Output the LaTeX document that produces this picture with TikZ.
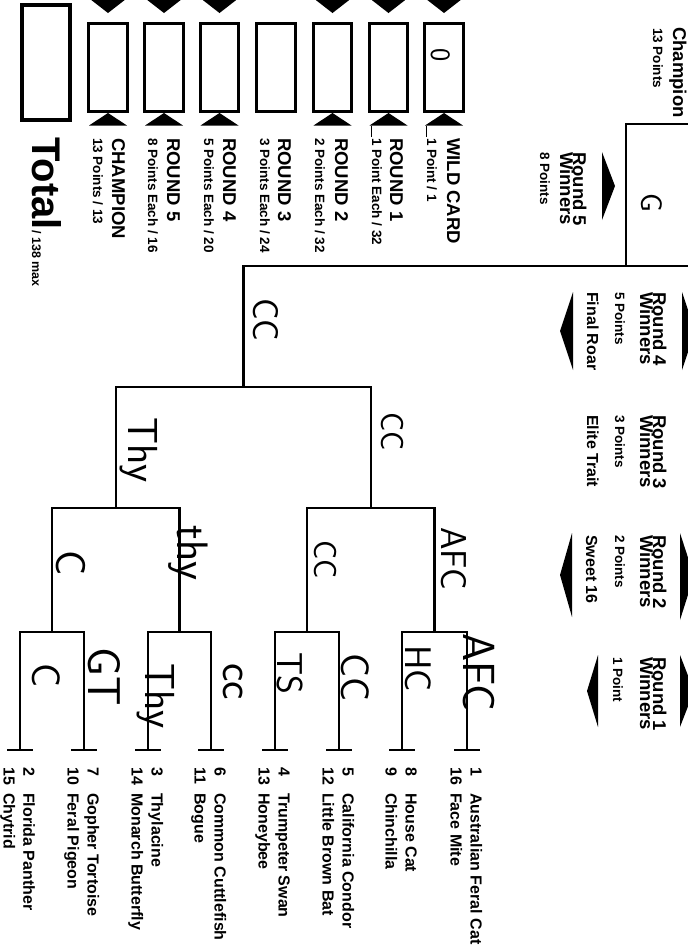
\documentclass[tikz,border=0pt]{standalone}
\usepackage{fontspec}
\setmainfont{Liberation Sans}
\newcommand\myfs[1]{\fontsize{#1}{#1}\selectfont}
\begin{document}
\begin{tikzpicture}[x=1pt,y=-1pt,
  brk/.style={line width=2.5pt},
  tickln/.style={line width=2.8pt},
  sbox/.style={draw,line width=2.6pt,minimum width=38.5pt,minimum height=88.5pt,inner sep=0pt},
  txt/.style={rotate=-90,anchor=base west,inner sep=0pt},
  seedtxt/.style={txt,font=\bfseries\myfs{16}},
  captxt/.style={txt,font=\bfseries\myfs{18.5}},
  smtxt/.style={txt,font=\bfseries\myfs{13.5}},
  hand/.style={txt,font=\sffamily\myfs{#1}},
  tri/.style={fill=black}]
\path[use as bounding box] (0,0) rectangle (688,951);
\fill[white] (0,0) rectangle (688,951);
\clip (0,0) rectangle (688,951);

% ---------- bracket ----------
\foreach \i/\v in {1/20,2/84,3/148,4/211,5/275,6/339,7/402,8/467} {
  \coordinate (L\i) at (\v,750);
  \coordinate (J\i) at (\v,632);
  \coordinate (Ta\i) at (\v-13,750);
  \coordinate (Tb\i) at (\v+13,750);
}
\foreach \i/\v in {1/52,2/179.5,3/307,4/434.5} {
  \coordinate (M\i) at (\v,632);
  \coordinate (N\i) at (\v,508);
}
\coordinate (P1) at (115.75,508); \coordinate (Q1) at (115.75,387);
\coordinate (P2) at (370.75,508); \coordinate (Q2) at (370.75,387);
\coordinate (R) at (243.25,387); \coordinate (S) at (243.25,266);
\coordinate (E1) at (695,266);
\coordinate (F1) at (626,266); \coordinate (F2) at (626,124); \coordinate (F3) at (695,124);

\foreach \i in {1,...,8} { \draw[tickln] (Ta\i) -- (Tb\i); }
\draw[brk] (L1) -- (J1) -- (J2) -- (L2);
\draw[brk] (L3) -- (J3) -- (J4) -- (L4);
\draw[brk] (L5) -- (J5) -- (J6) -- (L6);
\draw[brk] (L7) -- (J7) -- (J8) -- (L8);
\draw[brk] (M1) -- (N1) -- (N2) -- (M2);
\draw[brk] (M3) -- (N3) -- (N4) -- (M4);
\draw[brk] (P1) -- (Q1) -- (Q2) -- (P2);
\draw[brk] (R) -- (S) -- (E1);
\draw[brk] (F1) -- (F2) -- (F3);

% ---------- seeds ----------
\foreach \i/\v/\na/\ta/\nb/\tb in {
  1/20/2/Florida Panther/15/Chytrid,
  2/84/7/Gopher Tortoise/10/Feral Pigeon,
  3/148/3/Thylacine/14/Monarch Butterfly,
  4/211/6/Common Cuttlefish/11/Bogue,
  5/275/4/Trumpeter Swan/13/Honeybee,
  6/339/5/California Condor/12/Little Brown Bat,
  7/402/8/House Cat/9/Chinchilla,
  8/467/1/Australian Feral Cat/16/Face Mite} {
  \node[seedtxt] (sna\i) at (\v+3.5,767) {\na};
  \node[seedtxt] (sta\i) at (\v+3.5,793) {\ta};
  \node[seedtxt] (snb\i) at (\v-16.5,767) {\nb};
  \node[seedtxt] (stb\i) at (\v-16.5,793) {\tb};
}

% ---------- handwriting ----------
\node[hand=30] (hR5) at (641,193) {G};
\node[hand=36] (hR4) at (253,298) {CC};
\node[hand=42] (hR3a) at (128,417) {Thy};
\node[hand=32] (hR3b) at (381,412) {CC};
\node[hand=42] (hR2a) at (56,550) {C};
\node[hand=44] (hR2b) at (177,525) {thy};
\node[hand=32] (hR2c) at (314,540) {CC};
\node[hand=36] (hR2d) at (441,527) {AFC};
\node[hand=40] (hR1a) at (32,663) {C};
\node[hand=46] (hR1b) at (88,647) {GT};
\node[hand=42] (hR1c) at (145,663) {Thy};
\node[hand=44] (hR1d) at (223,663) {cc};
\node[hand=36] (hR1e) at (277,652) {TS};
\node[hand=40] (hR1f) at (341,653) {CC};
\node[hand=37] (hR1g) at (405,645) {HC};
\node[hand=45] (hR1h) at (463,633) {AFC};

% ---------- score column ----------
\node[draw,line width=4pt,minimum width=48pt,minimum height=115pt,inner sep=0pt] (btot) at (46,62.5) {};
\foreach \n/\x in {CH/108,R5/164,R4/219.5,R3/276,R2/332.5,R1/388.5,WC/444} {
  \node[sbox] (b\n) at (\x,67.5) {};
}
\foreach \x in {108,164,219.5,332.5,388.5,444} {
  \fill[tri] (\x-18,-1) -- (\x+18,-1) -- (\x,13) -- cycle;
  \fill[tri] (\x-19,125.5) -- (\x+19,125.5) -- (\x,113) -- cycle;
}
\draw[line width=1pt] (426,126) -- (426,137);
\draw[line width=1pt] (371,126) -- (371,137);
\node[hand=28] (hWC) at (431,48) {0};

\node[captxt] (lCHa) at (112,138) {CHAMPION};
\node[smtxt] (lCHb) at (93,138) {13 Points / 13};
\node[captxt] (lR5a) at (167,138) {ROUND 5};
\node[smtxt] (lR5b) at (148,138) {8 Points Each / 16};
\node[captxt] (lR4a) at (223,138) {ROUND 4};
\node[smtxt] (lR4b) at (204,138) {5 Points Each / 20};
\node[captxt] (lR3a) at (278,138) {ROUND 3};
\node[smtxt] (lR3b) at (260,138) {3 Points Each / 24};
\node[captxt] (lR2a) at (335,138) {ROUND 2};
\node[smtxt] (lR2b) at (315,138) {2 Points Each / 32};
\node[captxt] (lR1a) at (390,138) {ROUND 1};
\node[smtxt] (lR1b) at (372,138) {1 Point Each / 32};
\node[captxt] (lWCa) at (447,138) {WILD CARD};
\node[smtxt] (lWCb) at (427,138) {1 Point / 1};
\node[txt,font=\bfseries\myfs{40}] (ltot) at (32,137) {Total};
\node[txt,font=\bfseries\myfs{12.5}] (lmax) at (32,230) {/ 138 max};

% ---------- round headers ----------
\node[captxt] (hdCa) at (673,27) {Champion};
\node[smtxt] (hdCb) at (653,28) {13 Points};
\node[captxt] (hd5a) at (573,152) {Round 5};
\node[captxt] (hd5b) at (560,152) {Winners};
\node[smtxt] (hd5c) at (540,152) {8 Points};
\fill[tri] (602,152) -- (615,186) -- (602,220) -- cycle;

\node[captxt] (hd4a) at (653,292) {Round 4};
\node[captxt] (hd4b) at (640,292) {Winners};
\node[smtxt] (hd4c) at (615,292) {5 Points};
\node[txt,font=\bfseries\myfs{16}] (hd4d) at (587,292) {Final Roar};
\fill[tri] (573,292) -- (560,331) -- (573,370) -- cycle;
\fill[tri] (682,292) -- (695,331) -- (682,370) -- cycle;

\node[captxt] (hd3a) at (653,415) {Round 3};
\node[captxt] (hd3b) at (640,415) {Winners};
\node[smtxt] (hd3c) at (615,415) {3 Points};
\node[txt,font=\bfseries\myfs{16}] (hd3d) at (587,415) {Elite Trait};

\node[captxt] (hd2a) at (653,535) {Round 2};
\node[captxt] (hd2b) at (640,535) {Winners};
\node[smtxt] (hd2c) at (615,535) {2 Points};
\node[txt,font=\bfseries\myfs{16}] (hd2d) at (586,535) {Sweet 16};
\fill[tri] (572,533) -- (560,575) -- (572,617) -- cycle;
\fill[tri] (680,533) -- (694,576) -- (680,620) -- cycle;

\node[captxt] (hd1a) at (653,657) {Round 1};
\node[captxt] (hd1b) at (640,657) {Winners};
\node[smtxt] (hd1c) at (613,657) {1 Point};
\fill[tri] (598,655) -- (587,691) -- (598,727) -- cycle;
\fill[tri] (680,655) -- (694,691) -- (680,727) -- cycle;
\end{tikzpicture}
\end{document}
